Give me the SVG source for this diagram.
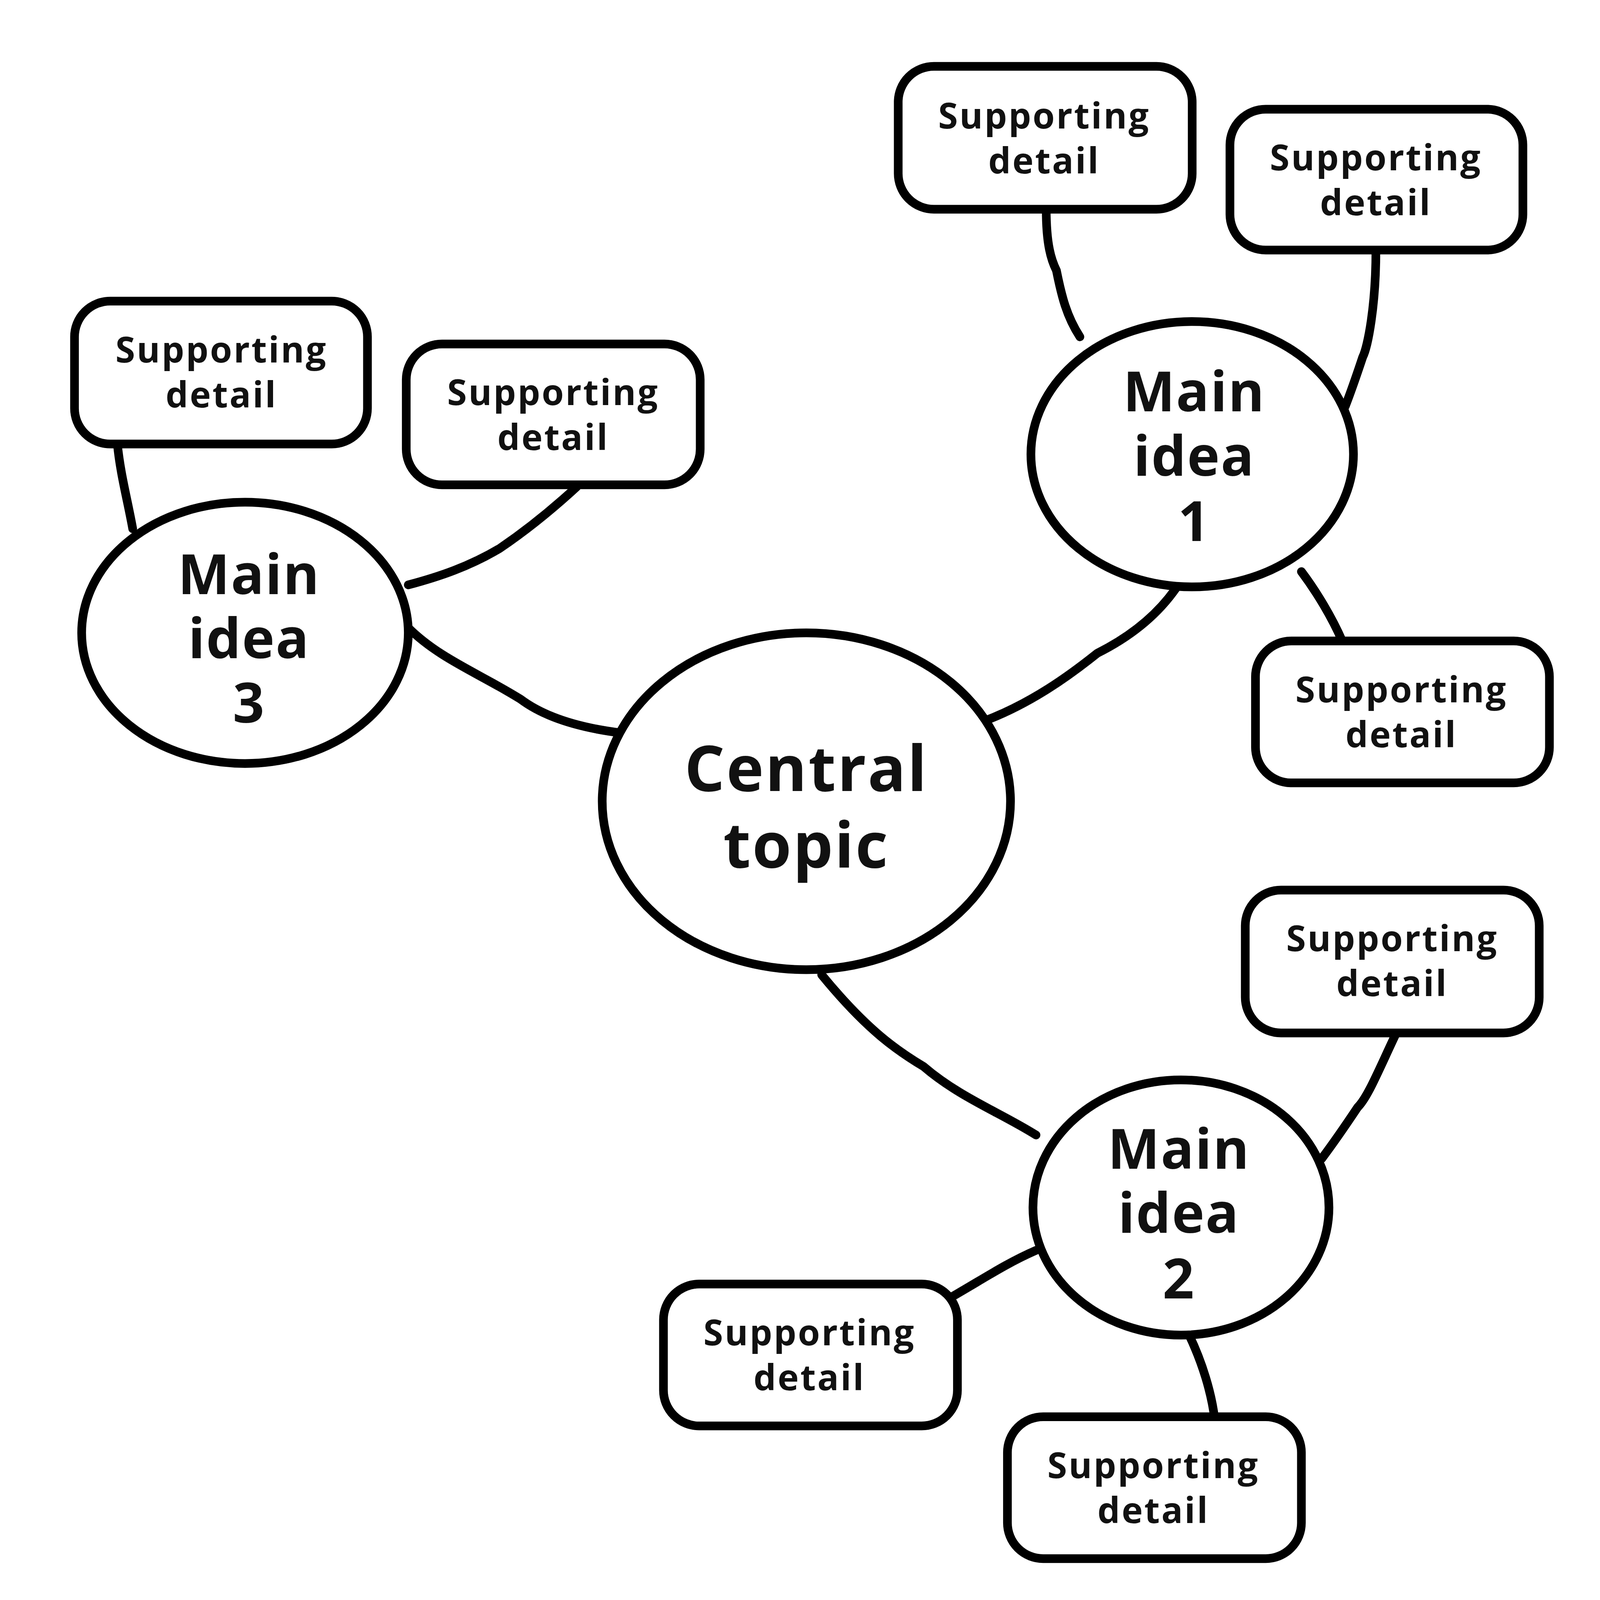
<svg xmlns="http://www.w3.org/2000/svg" width="5367" height="5367" viewBox="0 0 5367 5367">
<style>
.s{fill:#fff;stroke:#000;stroke-width:8.5;stroke-linejoin:round}
.c{fill:none;stroke:#000;stroke-width:8.5;stroke-linecap:round}
.t{font-family:"Open Sans","Liberation Sans",sans-serif;font-weight:700;text-anchor:middle;fill:#111}
.sd{font-size:35px;letter-spacing:1.5px}
.mi{font-size:54px;letter-spacing:1px}
.ct{font-size:62px;letter-spacing:1.5px}
</style>
<rect width="5367" height="5367" fill="#fff"/>
<g transform="scale(2.613)">
<g id="connectors">
<path class="c" d="M960,708 C1010,690 1050,660 1075,640 C1115,620 1140,595 1155,572"/>
<path class="c" d="M805,955 C850,1010 880,1030 905,1045 C940,1075 980,1090 1015,1112"/>
<path class="c" d="M608,718 C560,712 530,700 510,685 C470,660 430,645 400,615"/>
<path class="c" d="M1025,205 C1025,240 1030,255 1035,265 C1040,290 1045,310 1058,330"/>
<path class="c" d="M1348,245 C1348,300 1340,340 1335,350 C1330,365 1325,380 1318,398"/>
<path class="c" d="M1275,560 C1290,580 1305,605 1315,628"/>
<path class="c" d="M1368,1012 C1350,1050 1340,1075 1330,1085 C1320,1100 1310,1115 1295,1135"/>
<path class="c" d="M930,1272 C960,1255 985,1238 1015,1225"/>
<path class="c" d="M1165,1308 C1178,1335 1187,1365 1190,1390"/>
<path class="c" d="M115,435 C118,465 125,490 130,518"/>
<path class="c" d="M565,477 C540,500 515,520 490,537 C460,555 430,565 400,573"/>
</g>
<g id="central"><ellipse class="s" cx="790" cy="785" rx="200" ry="165"/>
<text class="t ct" x="790" y="775">Central</text><text class="t ct" x="790" y="850">topic</text></g>
<g id="main1"><ellipse class="s" cx="1168" cy="445" rx="158" ry="130"/>
<text class="t mi" x="1170" y="403">Main</text><text class="t mi" x="1170" y="466">idea</text><text class="t mi" x="1170" y="530">1</text></g>
<g id="main2"><ellipse class="s" cx="1157" cy="1183" rx="145" ry="125"/>
<text class="t mi" x="1155" y="1145">Main</text><text class="t mi" x="1155" y="1208">idea</text><text class="t mi" x="1155" y="1272">2</text></g>
<g id="main3"><ellipse class="s" cx="240" cy="620" rx="160" ry="128"/>
<text class="t mi" x="244" y="582">Main</text><text class="t mi" x="244" y="645">idea</text><text class="t mi" x="244" y="708">3</text></g>
<g id="sd1a"><rect class="s" x="880" y="65" width="288" height="140" rx="35"/><text class="t sd" x="1023" y="126">Supporting</text><text class="t sd" x="1023" y="170">detail</text></g>
<g id="sd1b"><rect class="s" x="1205" y="107" width="287" height="138" rx="35"/><text class="t sd" x="1348" y="167">Supporting</text><text class="t sd" x="1348" y="211">detail</text></g>
<g id="sd1c"><rect class="s" x="1230" y="628" width="288" height="139" rx="35"/><text class="t sd" x="1373" y="688">Supporting</text><text class="t sd" x="1373" y="732">detail</text></g>
<g id="sd2a"><rect class="s" x="1220" y="872" width="288" height="140" rx="35"/><text class="t sd" x="1364" y="932">Supporting</text><text class="t sd" x="1364" y="976">detail</text></g>
<g id="sd2b"><rect class="s" x="650" y="1258" width="288" height="139" rx="35"/><text class="t sd" x="793" y="1318">Supporting</text><text class="t sd" x="793" y="1362">detail</text></g>
<g id="sd2c"><rect class="s" x="987" y="1388" width="288" height="139" rx="35"/><text class="t sd" x="1130" y="1448">Supporting</text><text class="t sd" x="1130" y="1492">detail</text></g>
<g id="sd3a"><rect class="s" x="73" y="295" width="287" height="140" rx="35"/><text class="t sd" x="217" y="355">Supporting</text><text class="t sd" x="217" y="399">detail</text></g>
<g id="sd3b"><rect class="s" x="398" y="337" width="288" height="138" rx="35"/><text class="t sd" x="542" y="397">Supporting</text><text class="t sd" x="542" y="441">detail</text></g>
</g>
</svg>
